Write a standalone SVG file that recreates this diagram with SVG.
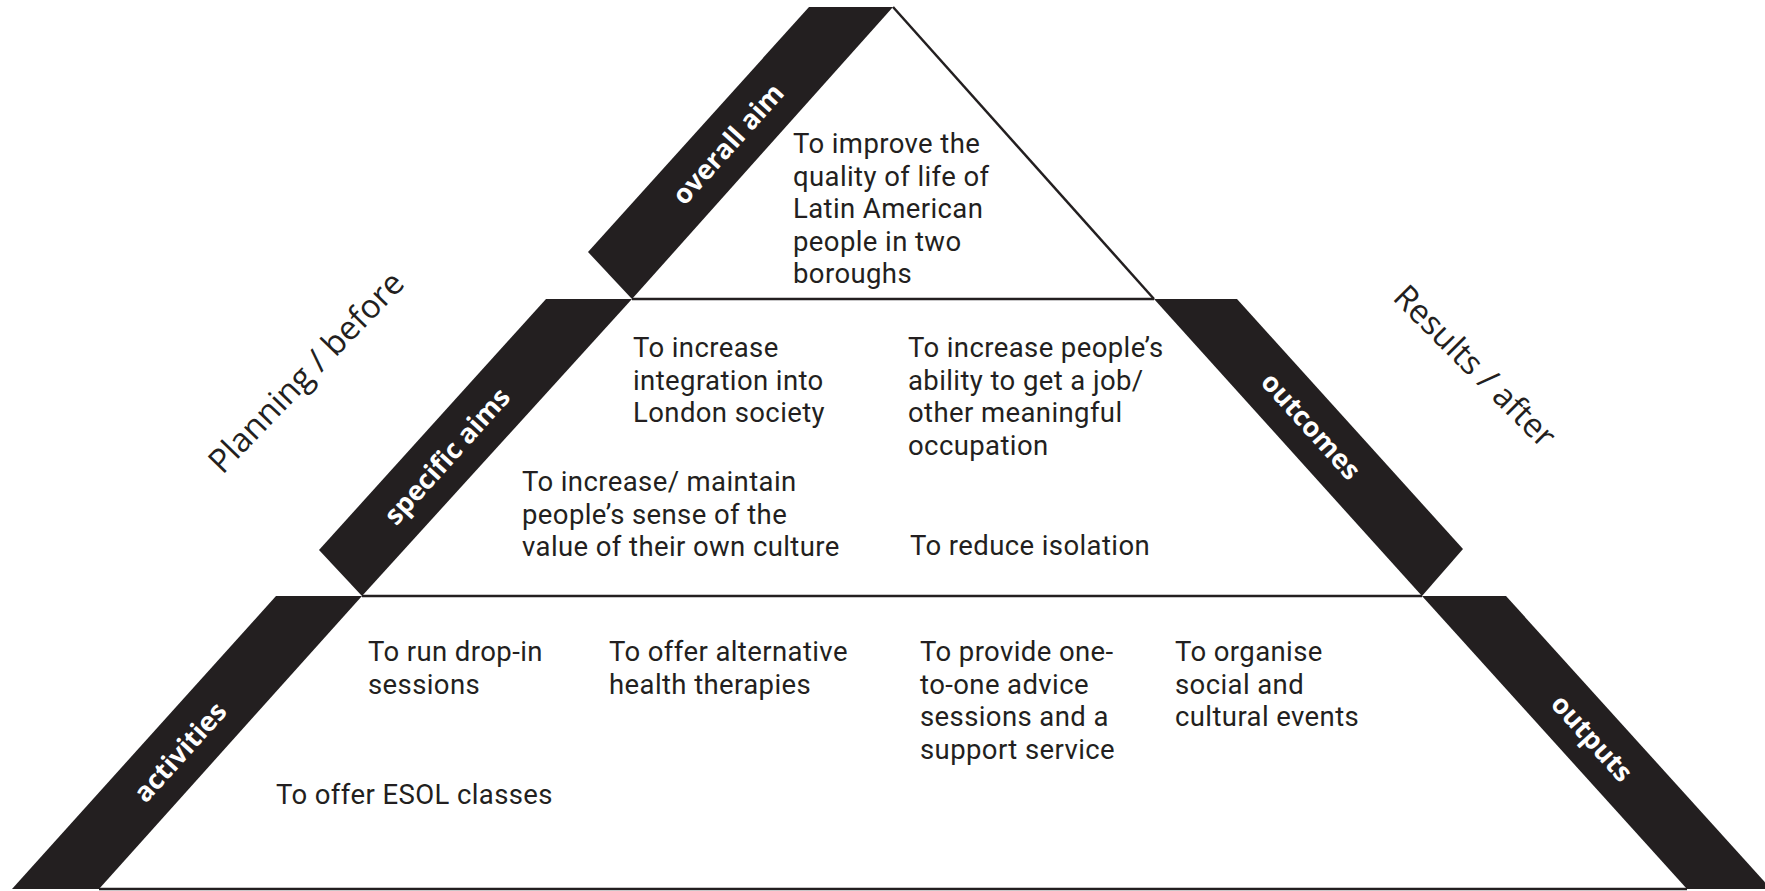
<svg xmlns="http://www.w3.org/2000/svg" width="1765" height="891" viewBox="0 0 1765 891">
<style>
.band{fill:#231f20}
.ln{stroke:#231f20;stroke-width:2.5;fill:none}
.t{font-family:Roboto,"Open Sans",sans-serif;font-size:27.5px;letter-spacing:0.4px;fill:#231f20}
.lab{font-family:"Open Sans","Noto Sans",sans-serif;font-size:27px;font-weight:bold;fill:#ffffff;text-anchor:middle}
.side{font-family:"Open Sans","Noto Sans",sans-serif;font-size:33px;fill:#231f20;text-anchor:middle}
</style>
<rect width="1765" height="891" fill="#ffffff"/>
<g id="connectors">
<line class="ln" x1="893" y1="7" x2="1154" y2="299"/>
<line class="ln" x1="632" y1="299" x2="1154" y2="299"/>
<line class="ln" x1="362" y1="596" x2="1422" y2="596"/>
<line class="ln" x1="99" y1="889" x2="1687" y2="889"/>
</g>
<g id="overall-aim">
<polygon class="band" points="809,7 893,7 632,299 588,252"/>
<text class="lab" transform="translate(728,144) rotate(-48)" dy="0.35em">overall aim</text>
</g>
<g id="specific-aims">
<polygon class="band" points="546,299 632,299 362,596 319,550"/>
<text class="lab" transform="translate(447,456) rotate(-48)" dy="0.35em">specific aims</text>
</g>
<g id="activities">
<polygon class="band" points="276,596 362,596 99,889 12,889"/>
<text class="lab" transform="translate(180,752) rotate(-48)" dy="0.35em">activities</text>
</g>
<g id="outcomes">
<polygon class="band" points="1154,299 1237,299 1463,549 1422,596"/>
<text class="lab" transform="translate(1311,426) rotate(48)" dy="0.35em">outcomes</text>
</g>
<g id="outputs">
<polygon class="band" points="1422,596 1506,596 1771,889 1687,889"/>
<text class="lab" transform="translate(1592,738) rotate(48)" dy="0.35em">outputs</text>
</g>
<g id="planning-before">
<text class="side" transform="translate(306,372) rotate(-46)" dy="0.35em">Planning / before</text>
</g>
<g id="results-after">
<text class="side" transform="translate(1475,366) rotate(45)" dy="0.35em">Results / after</text>
</g>
<g id="aim-text">
<text class="t" x="793" y="153"><tspan x="793" y="153">To improve the</tspan><tspan x="793" y="185.5">quality of life of</tspan><tspan x="793" y="218">Latin American</tspan><tspan x="793" y="250.5">people in two</tspan><tspan x="793" y="283">boroughs</tspan></text>
</g>
<g id="aim-integration">
<text class="t" x="633" y="357"><tspan x="633" y="357">To increase</tspan><tspan x="633" y="389.6">integration into</tspan><tspan x="633" y="422.2">London society</tspan></text>
</g>
<g id="aim-job">
<text class="t" x="908" y="357"><tspan x="908" y="357">To increase people’s</tspan><tspan x="908" y="389.6">ability to get a job/</tspan><tspan x="908" y="422.2">other meaningful</tspan><tspan x="908" y="454.8">occupation</tspan></text>
</g>
<g id="aim-culture">
<text class="t" x="522" y="491"><tspan x="522" y="491">To increase/ maintain</tspan><tspan x="522" y="523.6">people’s sense of the</tspan><tspan x="522" y="556.2">value of their own culture</tspan></text>
</g>
<g id="aim-isolation">
<text class="t" x="910" y="555">To reduce isolation</text>
</g>
<g id="act-dropin">
<text class="t" x="368" y="661"><tspan x="368" y="661">To run drop-in</tspan><tspan x="368" y="693.6">sessions</tspan></text>
</g>
<g id="act-health">
<text class="t" x="609" y="661"><tspan x="609" y="661">To offer alternative</tspan><tspan x="609" y="693.6">health therapies</tspan></text>
</g>
<g id="act-advice">
<text class="t" x="920" y="661"><tspan x="920" y="661">To provide one-</tspan><tspan x="920" y="693.6">to-one advice</tspan><tspan x="920" y="726.2">sessions and a</tspan><tspan x="920" y="758.8">support service</tspan></text>
</g>
<g id="act-events">
<text class="t" x="1175" y="661"><tspan x="1175" y="661">To organise</tspan><tspan x="1175" y="693.6">social and</tspan><tspan x="1175" y="726.2">cultural events</tspan></text>
</g>
<g id="act-esol">
<text class="t" x="276" y="804">To offer ESOL classes</text>
</g>
</svg>
